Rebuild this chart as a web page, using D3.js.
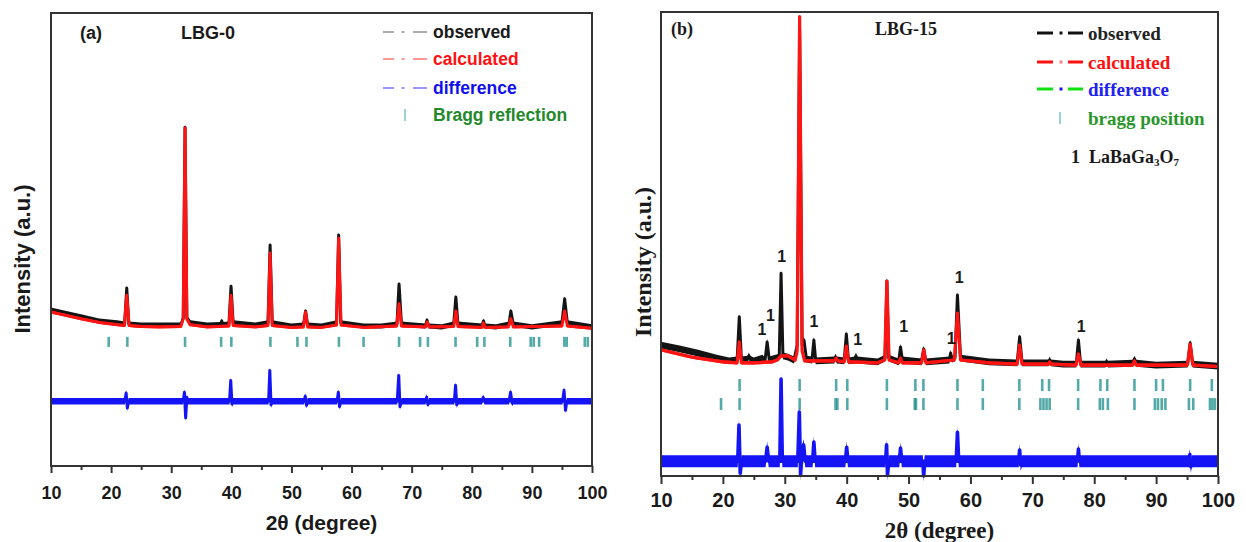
<!DOCTYPE html>
<html>
<head>
<meta charset="utf-8">
<script src="https://cdn.jsdelivr.net/npm/d3@7"></script>
<style>
  body { margin: 0; background: #fff; }
  svg { display: block; }
</style>
</head>
<body>
<svg id="chart" width="1246" height="542"></svg>
<script>
// ---------------- data: powder XRD patterns (2θ in degrees, intensity in a.u.) ----------------
const xTickValues = [10, 20, 30, 40, 50, 60, 70, 80, 90, 100];
const xMinorValues = [15, 25, 35, 45, 55, 65, 75, 85, 95];

// LBG-0
const observedA = [[10,344],[12,338],[15,329],[18,320],[21,316],[22.25,313],[22.6,393],[22.95,313],[25,311],[28,311],[31.6,311],[32.0,327],[32.3,748],[32.6,327],[33.2,316],[36,311],[38.2,312],[38.4,320],[38.6,312],[39.6,313],[39.95,397],[40.3,316],[44,311],[46.1,316],[46.45,488],[46.8,316],[50,309],[52.0,311],[52.35,342],[52.7,311],[55,309],[57.5,316],[57.85,510],[58.2,316],[62,309],[65,309],[67.55,313],[67.9,402],[68.3,313],[72.3,309],[72.55,322],[72.8,309],[75,307],[77.0,313],[77.35,373],[77.7,313],[81.7,309],[81.95,320],[82.2,309],[84,307],[86.2,313],[86.5,342],[86.9,313],[90,307],[95.0,316],[95.45,369],[95.9,316],[100,307]];
const calculatedA = [[10,340],[12,334],[15,325],[18,317],[21,312],[22.2,310],[22.6,377],[23.0,310],[25,308],[28,307],[31.6,308],[32.0,325],[32.3,746],[32.6,325],[33.1,312],[36,307],[39.6,309],[39.95,377],[40.3,310],[44,307],[46.1,310],[46.45,470],[46.8,310],[50,306],[52.0,307],[52.35,340],[52.7,307],[55,306],[57.5,311],[57.85,503],[58.25,311],[62,306],[67.5,309],[67.9,358],[68.3,309],[72.3,307],[72.6,318],[72.9,307],[77.0,308],[77.35,342],[77.7,308],[81.7,306],[81.95,316],[82.2,306],[86.1,307],[86.5,325],[86.9,307],[95.0,309],[95.45,342],[95.9,309],[100,304]];
const differenceA = [[10,0],[22.3,0],[22.5,18],[22.7,-15],[22.9,0],[32.0,0],[32.2,20],[32.4,-37],[32.6,8],[32.8,0],[39.7,0],[39.9,46],[40.1,-6],[40.3,0],[46.2,0],[46.4,68],[46.6,-8],[46.8,0],[52.1,0],[52.3,11],[52.5,-9],[52.7,0],[57.6,0],[57.8,20],[58.0,-12],[58.2,0],[67.6,0],[67.85,57],[68.05,-12],[68.3,0],[72.3,0],[72.5,9],[72.7,-7],[72.9,0],[77.1,0],[77.3,35],[77.5,-8],[77.7,0],[81.7,0],[81.9,8],[82.1,0],[86.2,0],[86.45,20],[86.7,-4],[86.9,0],[95.1,0],[95.35,24],[95.6,-20],[95.8,0],[100,0]];
const braggA = [19.6,22.7,32.3,38.3,40.0,46.5,51.0,52.5,57.9,62.0,67.9,71.4,72.7,77.3,80.9,82.1,86.4,89.8,90.3,91.2,95.4,95.8,98.8,99.3];

// LBG-15
const observedB = [[10,282],[13,274],[16,265],[19,254],[21,248],[22.3,250],[22.65,343],[23.0,250],[24.0,252],[24.2,259],[24.4,252],[25,248],[26.4,254],[26.8,248],[27.15,289],[27.5,250],[28.5,254],[29.1,256],[29.4,437],[29.7,259],[30.5,256],[31.5,250],[32.0,282],[32.4,962],[32.8,282],[33.1,293],[33.5,252],[34.4,250],[34.7,293],[35.0,248],[38.0,250],[38.2,256],[38.4,250],[39.6,248],[39.95,306],[40.3,248],[41.3,250],[41.5,259],[41.7,250],[45,246],[46.2,254],[46.5,420],[46.8,254],[48.4,246],[48.7,278],[49.0,250],[52.1,246],[52.45,274],[52.8,246],[56.6,250],[56.8,265],[57.0,252],[57.5,254],[57.9,390],[58.4,254],[63,246],[67.55,244],[67.95,300],[68.35,244],[72.6,244],[72.8,250],[73.0,244],[75,241],[77.1,241],[77.45,293],[77.8,241],[81.8,241],[82,246],[82.2,241],[86.2,243],[86.5,252],[86.8,243],[90,239],[95.1,241],[95.5,287],[95.9,241],[100,237]];
const calculatedB = [[10,272],[15,256],[20,246],[22.3,244],[22.65,289],[23.0,244],[25,244],[28,246],[28.8,250],[29.4,259],[30.5,259],[31.7,250],[32.0,270],[32.4,990],[32.8,270],[33.2,248],[36,248],[38.0,248],[38.3,254],[38.6,248],[39.6,246],[39.95,280],[40.3,246],[45,244],[46.15,250],[46.5,420],[46.85,250],[48.4,244],[48.7,254],[49.0,244],[52.1,244],[52.45,272],[52.8,244],[57.4,250],[57.9,351],[58.4,250],[63,244],[67.55,241],[67.95,282],[68.35,241],[72.6,241],[72.8,246],[73.0,241],[77.05,239],[77.45,263],[77.85,239],[86.2,239],[86.5,248],[86.8,239],[95.05,239],[95.5,284],[95.95,239],[100,236]];
const differenceB = [[10,0],[22.4,0],[22.6,78],[22.8,-26],[23.0,0],[26.9,0],[27.15,30],[27.4,0],[29.2,0],[29.4,177],[29.6,0],[32.1,0],[32.35,106],[32.55,-30],[32.8,20],[33.05,35],[33.3,0],[34.5,0],[34.7,41],[34.9,0],[39.8,0],[40.0,30],[40.2,0],[46.3,0],[46.45,35],[46.6,-30],[46.8,0],[48.5,0],[48.7,28],[48.9,0],[52.3,0],[52.45,-32],[52.6,0],[57.7,0],[57.9,62],[58.1,0],[67.8,0],[67.95,24],[68.1,-8],[68.3,0],[77.3,0],[77.45,26],[77.6,0],[95.3,0],[95.45,14],[95.6,-12],[95.8,0],[100,0]];
const braggB1 = [22.7,32.4,38.3,40.1,46.5,51.1,52.4,57.9,62.0,67.9,71.6,72.7,77.4,81.0,82.1,86.5,90.0,91.1,95.5,99.0];
const braggB2 = [19.7,22.7,32.4,38.2,38.5,40.1,46.5,51.0,51.2,52.4,57.9,62.0,67.9,71.3,71.8,72.3,72.8,77.4,80.9,81.4,82.2,86.5,89.8,90.3,90.9,91.5,95.3,96.0,98.7,99.1,99.5];
// LaBaGa3O7 secondary-phase reflections marked with "1"
const phaseLabelsB = [[26.3,315],[27.7,345],[29.5,474],[34.7,332],[41.8,295],[49.2,323],[56.9,297],[58.2,427],[77.9,323]];

// ---------------- drawing ----------------
const svg = d3.select("#chart");
const SANS = "'Liberation Sans', Arial, sans-serif";
const SERIF = "'Liberation Serif', 'Times New Roman', serif";

function drawPanel(p) {
  const x = d3.scaleLinear().domain([10, 100]).range([p.left, p.right]);
  const y = d3.scaleLinear().domain([0, 1000]).range([p.bottom, p.top]);
  const g = svg.append("g");

  // a profile is drawn as a noise band (vertical thickness) plus a core line
  function profile(data, offset, color, bandHalf, coreWidth) {
    const area = d3.area()
      .x(d => x(d[0]))
      .y0(d => y(d[1] + offset) + bandHalf)
      .y1(d => y(d[1] + offset) - bandHalf);
    const line = d3.line().x(d => x(d[0])).y(d => y(d[1] + offset));
    g.append("path").datum(data).attr("d", area).attr("fill", color);
    g.append("path").datum(data).attr("d", line)
      .attr("fill", "none").attr("stroke", color)
      .attr("stroke-width", coreWidth).attr("stroke-linejoin", "round");
  }

  // Bragg reflection markers
  p.braggRows.forEach(row => {
    g.append("g").selectAll("line").data(row.values).join("line")
      .attr("x1", d => x(d)).attr("x2", d => x(d))
      .attr("y1", y(row.level) - p.braggHalf).attr("y2", y(row.level) + p.braggHalf)
      .attr("stroke", "#1b8c8c").attr("stroke-opacity", 0.75)
      .attr("stroke-width", 2.6);
  });

  // difference curve
  profile(p.diff, p.diffOffset, "#1414f5", p.diffBand, p.diffCore);
  if (p.diffAccent) {
    const accent = d3.line().defined(d => Math.abs(d[1]) > 40)
      .x(d => x(d[0])).y(d => y(d[1] + p.diffOffset));
    g.append("path").datum(p.diff).attr("d", accent)
      .attr("fill", "none").attr("stroke", "#22e022").attr("stroke-width", 1.6);
    g.append("path").datum(p.diff).attr("d", accent)
      .attr("fill", "none").attr("stroke", "#1414f5").attr("stroke-width", 4.5)
      .attr("stroke-dasharray", "3,4");
  }

  // observed and calculated profiles
  profile(p.obs, 0, "#141414", p.obsBand, p.obsCore);
  profile(p.calc, 0, "#ff1414", p.calcBand, p.calcCore);

  // axis frame
  g.append("rect")
    .attr("x", p.left).attr("y", p.top)
    .attr("width", p.right - p.left).attr("height", p.bottom - p.top)
    .attr("fill", "none").attr("stroke", "#333").attr("stroke-width", 2);

  // x axis: labelled major ticks and minor ticks
  const major = d3.axisBottom(x).tickValues(xTickValues).tickFormat(d3.format("d"))
    .tickSize(p.majorTick).tickPadding(p.tickPad);
  const minor = d3.axisBottom(x).tickValues(xMinorValues).tickFormat("")
    .tickSize(p.minorTick);
  const ax = g.append("g").attr("transform", `translate(0,${p.bottom})`).call(major);
  const axm = g.append("g").attr("transform", `translate(0,${p.bottom})`).call(minor);
  [ax, axm].forEach(a => {
    a.select(".domain").remove();
    a.selectAll(".tick line").attr("stroke", "#333").attr("stroke-width", 2);
  });
  ax.selectAll(".tick text")
    .attr("fill", "#1a1a1a")
    .style("font-family", SANS).style("font-weight", "bold")
    .style("font-size", p.tickFont + "px");

  // axis titles
  g.append("text")
    .attr("x", (p.left + p.right) / 2).attr("y", p.xTitleY)
    .attr("text-anchor", "middle").attr("dominant-baseline", "central")
    .style("font-family", p.font).style("font-weight", "bold")
    .style("font-size", p.titleFont + "px").attr("fill", "#1a1a1a")
    .text("2θ (degree)");
  g.append("text")
    .attr("transform", `translate(${p.yTitleX},${p.yTitleY}) rotate(-90)`)
    .attr("text-anchor", "middle").attr("dominant-baseline", "central")
    .style("font-family", p.font).style("font-weight", "bold")
    .style("font-size", p.yTitleFont + "px").attr("fill", "#1a1a1a")
    .text("Intensity (a.u.)");

  // panel tag and sample name
  p.labels.forEach(l => {
    g.append("text").attr("x", l.x).attr("y", l.y)
      .attr("text-anchor", "middle").attr("dominant-baseline", "central")
      .style("font-family", p.font).style("font-weight", "bold")
      .style("font-size", l.size + "px").attr("fill", "#1a1a1a").text(l.text);
  });

  // legend
  const lg = g.append("g");
  p.legend.forEach((item, i) => {
    const ly = p.legendY[i];
    if (item.kind === "line") {
      const x0 = p.legendX0;
      lg.append("line").attr("x1", x0).attr("x2", x0 + p.dashA).attr("y1", ly).attr("y2", ly)
        .attr("stroke", item.line).attr("stroke-width", p.legendStroke).attr("stroke-opacity", p.legendOpacity);
      lg.append("line").attr("x1", x0 + p.dotAt - 1.5).attr("x2", x0 + p.dotAt + 1.5).attr("y1", ly).attr("y2", ly)
        .attr("stroke", item.dot).attr("stroke-width", p.legendStroke).attr("stroke-opacity", p.legendOpacity);
      lg.append("line").attr("x1", x0 + p.dashB).attr("x2", x0 + p.legendLen).attr("y1", ly).attr("y2", ly)
        .attr("stroke", item.line).attr("stroke-width", p.legendStroke).attr("stroke-opacity", p.legendOpacity);
    } else {
      lg.append("line").attr("x1", p.braggKeyX).attr("x2", p.braggKeyX)
        .attr("y1", ly - 6).attr("y2", ly + 6)
        .attr("stroke", "#9ad4d4").attr("stroke-width", 2);
    }
    lg.append("text").attr("x", p.legendTextX).attr("y", ly)
      .attr("dominant-baseline", "central")
      .style("font-family", p.font).style("font-weight", "bold")
      .style("font-size", p.legendFont + "px").attr("fill", item.color).text(item.text);
  });

  return { x, y, g };
}

// panel (a): LBG-0
drawPanel({
  left: 51, right: 592, top: 13, bottom: 466,
  font: SANS, tickFont: 18, tickPad: 13, majorTick: 7, minorTick: 4,
  titleFont: 21, xTitleY: 522,
  yTitleFont: 22, yTitleX: 22, yTitleY: 259,
  obs: observedA, calc: calculatedA, diff: differenceA,
  obsBand: 2.6, obsCore: 3, calcBand: 1.4, calcCore: 3,
  diffBand: 3.2, diffCore: 3, diffOffset: 143, diffAccent: false,
  braggRows: [{ values: braggA, level: 274 }], braggHalf: 5,
  labels: [{ text: "(a)", x: 91, y: 33, size: 18 }, { text: "LBG-0", x: 208, y: 33, size: 18 }],
  legend: [
    { kind: "line", text: "observed", color: "#1a1a1a", line: "#555", dot: "#555" },
    { kind: "line", text: "calculated", color: "#ff1010", line: "#ff3030", dot: "#ff3030" },
    { kind: "line", text: "difference", color: "#1010ee", line: "#3030ff", dot: "#3030ff" },
    { kind: "bragg", text: "Bragg reflection", color: "#23892a" }
  ],
  legendY: [32, 59, 88, 115], legendX0: 383, legendLen: 44, dashA: 11, dotAt: 20, dashB: 30,
  legendStroke: 2, legendOpacity: 0.5, legendTextX: 433, legendFont: 17.5, braggKeyX: 405
});

// panel (b): LBG-15
const panelB = drawPanel({
  left: 661, right: 1218, top: 12, bottom: 476,
  font: SERIF, tickFont: 20, tickPad: 9, majorTick: 8, minorTick: 4,
  titleFont: 23, xTitleY: 530,
  yTitleFont: 24, yTitleX: 643, yTitleY: 262,
  obs: observedB, calc: calculatedB, diff: differenceB,
  obsBand: 3.4, obsCore: 3, calcBand: 1.6, calcCore: 3.2,
  diffBand: 6, diffCore: 3.6, diffOffset: 32, diffAccent: true,
  braggRows: [{ values: braggB1, level: 196 }, { values: braggB2, level: 155 }], braggHalf: 6,
  labels: [{ text: "(b)", x: 682, y: 29, size: 18 }, { text: "LBG-15", x: 906, y: 29, size: 18 }],
  legend: [
    { kind: "line", text: "observed", color: "#222", line: "#111", dot: "#111" },
    { kind: "line", text: "calculated", color: "#ff1010", line: "#ff1010", dot: "#ff8080" },
    { kind: "line", text: "difference", color: "#2020f0", line: "#10e010", dot: "#1010f0" },
    { kind: "bragg", text: "bragg position", color: "#2a962a" }
  ],
  legendY: [33, 62, 89, 118], legendX0: 1037, legendLen: 46, dashA: 16, dotAt: 24, dashB: 31,
  legendStroke: 3, legendOpacity: 1, legendTextX: 1088, legendFont: 19, braggKeyX: 1060
});

// tick labels of panel (b) are set in a bold sans face
panelB.g.selectAll(".tick text").style("font-family", SANS);

// secondary phase markers
panelB.g.append("g").selectAll("text").data(phaseLabelsB).join("text")
  .attr("x", d => panelB.x(d[0])).attr("y", d => panelB.y(d[1]))
  .attr("text-anchor", "middle").attr("dominant-baseline", "central")
  .style("font-family", SANS).style("font-weight", "bold").style("font-size", "16px")
  .attr("fill", "#1a1a1a").text("1");

// phase key: 1 LaBaGa3O7
const key = panelB.g.append("text").attr("x", 1071).attr("y", 157)
  .attr("dominant-baseline", "central")
  .style("font-family", SERIF).style("font-weight", "bold").style("font-size", "18px")
  .attr("fill", "#1a1a1a");
key.append("tspan").text("1");
key.append("tspan").attr("x", 1089).text("LaBaGa");
key.append("tspan").attr("dy", 5).style("font-size", "11px").text("3");
key.append("tspan").attr("dy", -5).text("O");
key.append("tspan").attr("dy", 5).style("font-size", "11px").text("7");
</script>
</body>
</html>
